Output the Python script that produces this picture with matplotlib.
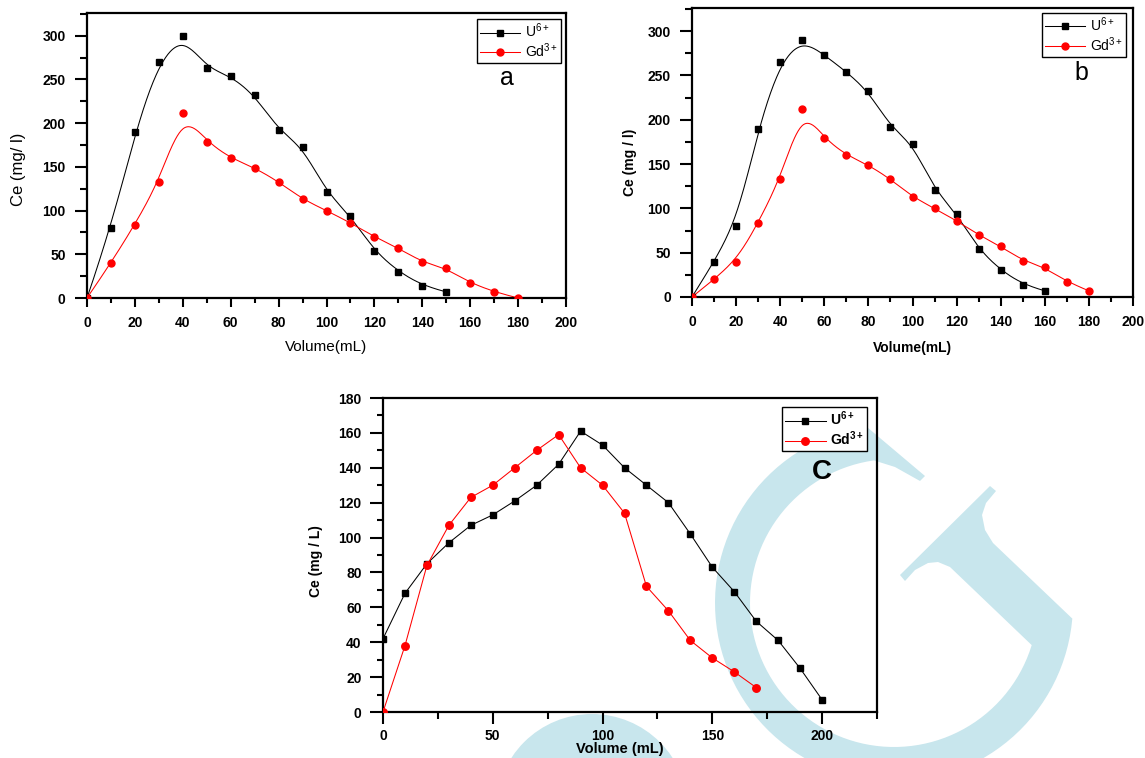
import numpy as np
import matplotlib
matplotlib.use("Agg")
import matplotlib.pyplot as plt
from matplotlib.patches import Polygon, Circle
from matplotlib.transforms import Affine2D
from matplotlib.ticker import MultipleLocator

plt.rcParams["font.family"] = ["Liberation Sans", "DejaVu Sans"]
plt.rcParams["mathtext.fontset"] = "custom"
plt.rcParams["mathtext.rm"] = "Liberation Sans"
plt.rcParams["mathtext.bf"] = "Liberation Sans:bold"

W, H = 1145, 758

# (a) U6+ / Gd3+ breakthrough, run 1
vol_a_u = [0, 10, 20, 30, 40, 50, 60, 70, 80, 90, 100, 110, 120, 130, 140, 150]
ce_a_u = [0, 80, 190, 270, 300, 263, 254, 232, 192, 173, 121, 94, 54, 30, 14, 7]
vol_a_gd = [0, 10, 20, 30, 40, 50, 60, 70, 80, 90, 100, 110, 120, 130, 140, 150, 160, 170, 180]
ce_a_gd = [0, 40, 84, 133, 212, 179, 160, 149, 133, 113, 100, 86, 70, 57, 41, 34, 17, 7, 0]

# (b) run 2
vol_b_u = [0, 10, 20, 30, 40, 50, 60, 70, 80, 90, 100, 110, 120, 130, 140, 150, 160]
ce_b_u = [0, 40, 80, 190, 265, 290, 273, 254, 232, 192, 173, 121, 94, 54, 30, 14, 7]
vol_b_gd = [0, 10, 20, 30, 40, 50, 60, 70, 80, 90, 100, 110, 120, 130, 140, 150, 160, 170, 180]
ce_b_gd = [0, 20, 40, 84, 133, 212, 179, 160, 149, 133, 113, 100, 86, 70, 57, 41, 34, 17, 7]

# (c) run 3
vol_c_u = [0, 10, 20, 30, 40, 50, 60, 70, 80, 90, 100, 110, 120, 130, 140, 150, 160, 170, 180, 190, 200]
ce_c_u = [42, 68, 85, 97, 107, 113, 121, 130, 142, 161, 153, 140, 130, 120, 102, 83, 69, 52, 41, 25, 7]
vol_c_gd = [0, 10, 20, 30, 40, 50, 60, 70, 80, 90, 100, 110, 120, 130, 140, 150, 160, 170]
ce_c_gd = [0, 38, 84, 107, 123, 130, 140, 150, 159, 140, 130, 114, 72, 58, 41, 31, 23, 14]

WM_COLOR = "#c8e6ed"


def bspline(x, y, n=400, k=3):
    """Clamped cubic B-spline using the points as control polygon (Origin style)."""
    P = np.column_stack([x, y]).astype(float)
    m = len(P)
    knots = np.concatenate([np.zeros(k + 1), np.arange(1, m - k), np.full(k + 1, m - k)]).astype(float)
    t = np.linspace(0, m - k, n)
    nb = len(knots) - 1
    B = np.zeros((n, nb))
    for i in range(nb):
        B[:, i] = (knots[i] <= t) & (t < knots[i + 1])
    B[t == knots[-1], m - 1] = 1.0
    for d in range(1, k + 1):
        Bn = np.zeros((n, nb - d))
        for i in range(nb - d):
            a = knots[i + d] - knots[i]
            b = knots[i + d + 1] - knots[i + 1]
            term = np.zeros(n)
            if a > 0:
                term += (t - knots[i]) / a * B[:, i]
            if b > 0:
                term += (knots[i + d + 1] - t) / b * B[:, i + 1]
            Bn[:, i] = term
        B = Bn
    C = B @ P
    return C[:, 0], C[:, 1]


def g_logo():
    cx, cy = 894, 603
    th_out = np.radians(np.linspace(-5, -261, 90))
    outer = np.column_stack([cx + 179 * np.cos(th_out), cy - 179 * np.sin(th_out)])
    tip = np.array([(925, 476), (920, 481), (895, 467)])
    th_in = np.radians(np.linspace(-262, -17, 90))
    inner = np.column_stack([cx + 144 * np.cos(th_in), cy - 144 * np.sin(th_in)])
    bar = np.array([(950, 567), (938, 562), (928, 563), (915, 570), (905, 581), (900, 575),
                    (990, 486), (996, 491), (986, 503), (982, 515), (985, 530), (993, 543)])
    return np.vstack([outer, tip, inner, bar])


def draw_watermark(fig):
    px = Affine2D().scale(1 / W, -1 / H).translate(0, 1) + fig.transFigure
    fig.add_artist(Polygon(g_logo(), closed=True, facecolor=WM_COLOR, edgecolor="none",
                           transform=px, zorder=-5))
    fig.add_artist(Circle((592, 810), 96, facecolor=WM_COLOR, edgecolor="none",
                          transform=px, zorder=-5))
    fig.add_artist(Circle((570, 830), 72, facecolor="white", edgecolor="none",
                          transform=px, zorder=-4))


def style_axes(ax, tick_fs, xlen, ylen, xpad, ypad):
    ax.set_facecolor("none")
    for s in ax.spines.values():
        s.set_linewidth(1.6)
    ax.tick_params(which="both", direction="out", top=False, right=False, width=1.5)
    ax.tick_params(axis="x", which="major", length=xlen[0], pad=xpad)
    ax.tick_params(axis="x", which="minor", length=xlen[1])
    ax.tick_params(axis="y", which="major", length=ylen[0], pad=ypad)
    ax.tick_params(axis="y", which="minor", length=ylen[1])
    ax.tick_params(which="major", labelsize=tick_fs)
    plt.setp(ax.get_xticklabels() + ax.get_yticklabels(), fontweight="bold")


def panel(ax, vu, cu, vg, cg, smooth, bold_text, ms_u, ms_g):
    if smooth:
        xs, ys = bspline(vu, cu)
        ax.plot(xs, ys, color="black", lw=0.75, zorder=2)
        xs, ys = bspline(vg, cg)
        ax.plot(xs, ys, color="red", lw=0.75, zorder=2)
        ax.plot(vu, cu, "s", color="black", ms=ms_u, zorder=3)
        ax.plot(vg, cg, "o", color="red", ms=ms_g, zorder=3)
        hu = ax.plot([], [], "-s", color="black", lw=0.75, ms=ms_u)[0]
        hg = ax.plot([], [], "-o", color="red", lw=0.75, ms=ms_g)[0]
    else:
        hu = ax.plot(vu, cu, "-s", color="black", lw=0.75, ms=ms_u, zorder=3)[0]
        hg = ax.plot(vg, cg, "-o", color="red", lw=0.75, ms=ms_g, zorder=3)[0]
    if bold_text:
        labels = [r"$\mathbf{U^{6+}}$", r"$\mathbf{Gd^{3+}}$"]
    else:
        labels = [r"$\mathrm{U^{6+}}$", r"$\mathrm{Gd^{3+}}$"]
    return [hu, hg], labels


def add_legend(ax, handles, labels, anchor, fs):
    leg = ax.legend(handles, labels, loc="upper right", bbox_to_anchor=anchor, fontsize=fs,
                    frameon=True, fancybox=False, edgecolor="black", framealpha=1,
                    handlelength=2.9, handletextpad=0.35, borderpad=0.2, labelspacing=0.1,
                    borderaxespad=0)
    leg.get_frame().set_linewidth(1.0)
    return leg


def main():
    fig = plt.figure(figsize=(W / 100, H / 100), dpi=100)
    draw_watermark(fig)

    # panel a
    ax = fig.add_axes([87 / W, 1 - 298 / H, 479 / W, 285 / H])
    hs, labs = panel(ax, vol_a_u, ce_a_u, vol_a_gd, ce_a_gd, True, False, 4.8, 5.0)
    ax.set_xlim(0, 200)
    ax.set_ylim(0, 326)
    ax.xaxis.set_major_locator(MultipleLocator(20))
    ax.xaxis.set_minor_locator(MultipleLocator(10))
    ax.yaxis.set_major_locator(MultipleLocator(50))
    ax.yaxis.set_minor_locator(MultipleLocator(25))
    style_axes(ax, 10, (6.5, 3.6), (9.0, 5.0), 6.3, 6.3)
    ax.set_xlabel("Volume(mL)", fontsize=11)
    ax.set_ylabel("Ce (mg/ l)", fontsize=12)
    ax.xaxis.set_label_coords(0.5, -0.148)
    ax.yaxis.set_label_coords(-0.128, 0.45)
    add_legend(ax, hs, labs, (0.99, 0.979), 10)
    ax.text(0.877, 0.772, "a", transform=ax.transAxes, fontsize=18, ha="center", va="center")

    # panel b
    ax = fig.add_axes([692 / W, 1 - 297 / H, 441 / W, 289 / H])
    hs, labs = panel(ax, vol_b_u, ce_b_u, vol_b_gd, ce_b_gd, True, False, 4.8, 5.0)
    ax.set_xlim(0, 200)
    ax.set_ylim(0, 326)
    ax.xaxis.set_major_locator(MultipleLocator(20))
    ax.xaxis.set_minor_locator(MultipleLocator(10))
    ax.yaxis.set_major_locator(MultipleLocator(50))
    ax.yaxis.set_minor_locator(MultipleLocator(25))
    style_axes(ax, 10, (6.5, 3.6), (9.0, 5.0), 6.3, 6.3)
    ax.set_xlabel("Volume(mL)", fontsize=10, fontweight="bold")
    ax.set_ylabel("Ce (mg / l)", fontsize=10, fontweight="bold")
    ax.xaxis.set_label_coords(0.5, -0.152)
    ax.yaxis.set_label_coords(-0.125, 0.467)
    add_legend(ax, hs, labs, (0.984, 0.983), 10)
    ax.text(0.882, 0.775, "b", transform=ax.transAxes, fontsize=18, ha="center", va="center")

    # panel c
    ax = fig.add_axes([383 / W, 1 - 712 / H, 494 / W, 314 / H])
    hs, labs = panel(ax, vol_c_u, ce_c_u, vol_c_gd, ce_c_gd, False, True, 5.0, 5.4)
    ax.set_xlim(0, 225)
    ax.set_ylim(0, 180)
    ax.xaxis.set_major_locator(MultipleLocator(50))
    ax.xaxis.set_minor_locator(MultipleLocator(25))
    ax.yaxis.set_major_locator(MultipleLocator(20))
    ax.yaxis.set_minor_locator(MultipleLocator(10))
    style_axes(ax, 10, (8.6, 5.0), (9.4, 4.4), 3.5, 6.0)
    ax.set_xlabel("Volume (mL)", fontsize=10.5, fontweight="bold")
    ax.set_ylabel("Ce (mg / L)", fontsize=10, fontweight="bold")
    ax.xaxis.set_label_coords(0.48, -0.095)
    ax.yaxis.set_label_coords(-0.121, 0.48)
    add_legend(ax, hs, labs, (0.98, 0.971), 10)
    ax.text(0.889, 0.764, "C", transform=ax.transAxes, fontsize=20, fontweight="bold",
            ha="center", va="center")

    fig.savefig("out.png", dpi=100)


if __name__ == "__main__":
    main()
